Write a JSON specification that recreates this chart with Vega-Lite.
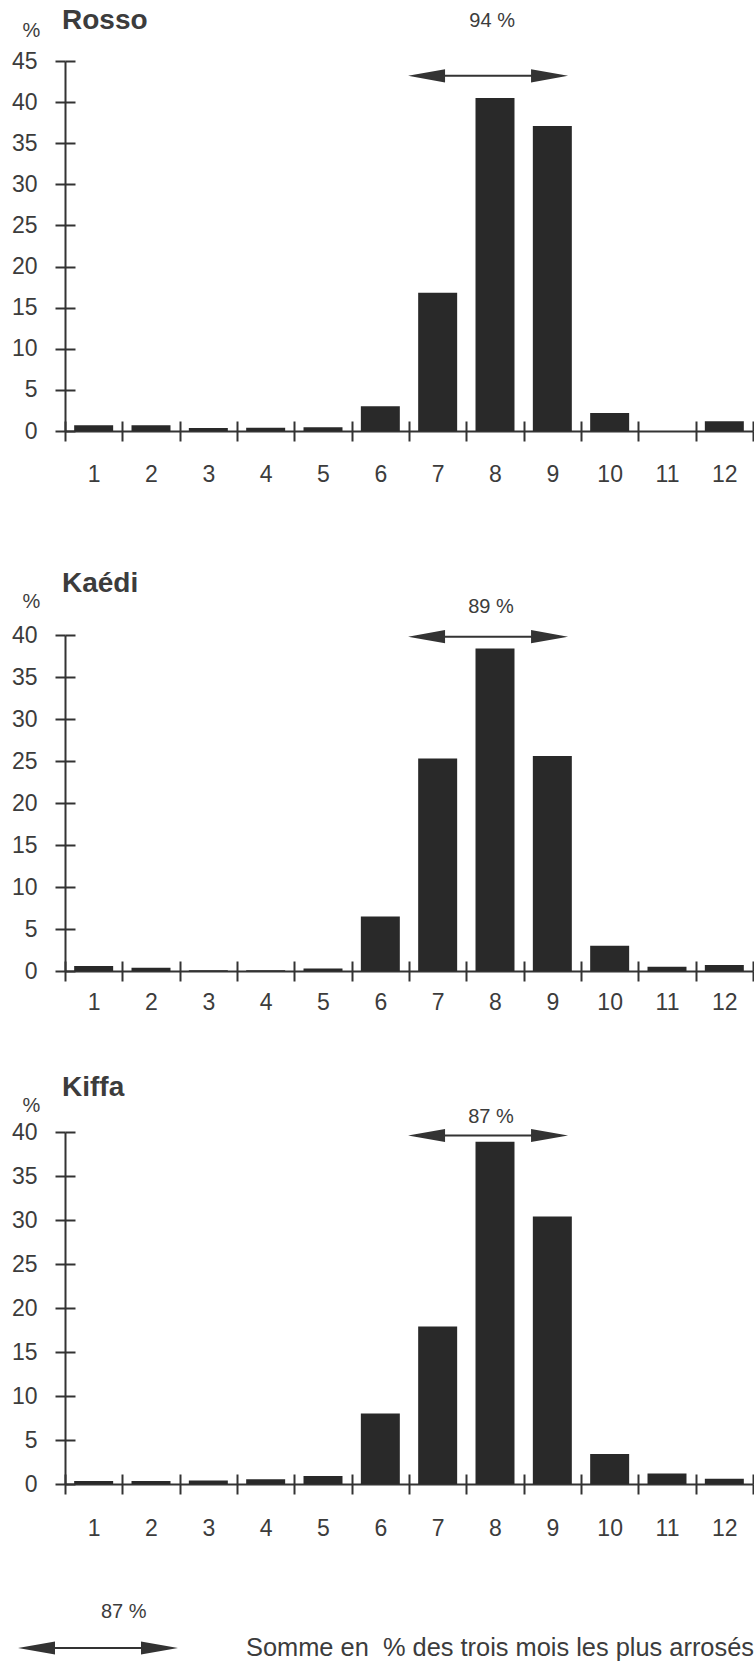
{
  "$schema": "https://vega.github.io/schema/vega-lite/v6.json",
  "background": "white",
  "padding": {"left": 11, "top": 7, "right": 0, "bottom": 0},
  "config": {
    "font": "Liberation Sans",
    "view": {"stroke": null},
    "axis": {
      "domainColor": "#333333", "domainWidth": 2, "tickColor": "#333333", "tickWidth": 2,
      "labelColor": "#3c3c3c", "labelFont": "Liberation Sans", "labelFontSize": 23,
      "grid": false, "titleColor": "#3c3c3c", "titleFont": "Liberation Sans", "titleFontWeight": "normal"
    },
    "text": {"font": "Liberation Sans", "color": "#3c3c3c"}
  },
  "datasets": {
    "rosso": [
      {"month": 1, "pct": 0.7}, {"month": 2, "pct": 0.7}, {"month": 3, "pct": 0.35}, {"month": 4, "pct": 0.4},
      {"month": 5, "pct": 0.45}, {"month": 6, "pct": 3.0}, {"month": 7, "pct": 16.8}, {"month": 8, "pct": 40.5},
      {"month": 9, "pct": 37.1}, {"month": 10, "pct": 2.2}, {"month": 11, "pct": 0}, {"month": 12, "pct": 1.2}
    ],
    "kaedi": [
      {"month": 1, "pct": 0.6}, {"month": 2, "pct": 0.4}, {"month": 3, "pct": 0.1}, {"month": 4, "pct": 0.1},
      {"month": 5, "pct": 0.3}, {"month": 6, "pct": 6.5}, {"month": 7, "pct": 25.3}, {"month": 8, "pct": 38.4},
      {"month": 9, "pct": 25.6}, {"month": 10, "pct": 3.0}, {"month": 11, "pct": 0.5}, {"month": 12, "pct": 0.7}
    ],
    "kiffa": [
      {"month": 1, "pct": 0.35}, {"month": 2, "pct": 0.35}, {"month": 3, "pct": 0.4}, {"month": 4, "pct": 0.55},
      {"month": 5, "pct": 0.9}, {"month": 6, "pct": 8.0}, {"month": 7, "pct": 17.9}, {"month": 8, "pct": 38.9},
      {"month": 9, "pct": 30.4}, {"month": 10, "pct": 3.4}, {"month": 11, "pct": 1.2}, {"month": 12, "pct": 0.6}
    ],
    "notes": [
      {"station": "Rosso", "mid": 8, "total": "94 %", "note": "Somme en\u00a0 % des trois mois les plus arrosés"},
      {"station": "Kaédi", "mid": 8, "total": "89 %", "note": "Somme en\u00a0 % des trois mois les plus arrosés"},
      {"station": "Kiffa", "mid": 8, "total": "87 %", "note": "Somme en\u00a0 % des trois mois les plus arrosés"}
    ]
  },
  "bounds": "flush",
  "spacing": 204,
  "vconcat": [
    {
      "width": 688, "height": 370,
      "layer": [
        {
          "data": {"name": "rosso"},
          "mark": {"type": "bar", "color": "#292929", "width": {"band": 0.68}},
          "encoding": {
            "x": {"field": "month", "type": "ordinal", "scale": {"domain": [1,2,3,4,5,6,7,8,9,10,11,12], "paddingInner": 0, "paddingOuter": 0},
                  "axis": {"orient": "bottom", "tickBand": "extent", "labelAngle": 0, "tickSize": 10, "labelPadding": 22, "title": null}},
            "y": {"field": "pct", "type": "quantitative", "scale": {"domain": [0, 45], "nice": false},
                  "axis": {"values": [0,5,10,15,20,25,30,35,40,45], "tickSize": 10, "labelPadding": 18, "title": "%", "titleAngle": 0, "titleX": -34, "titleY": -25, "titleAlign": "center", "titleBaseline": "alphabetic", "titleFontSize": 20}}
          }
        },
        {
          "data": {"name": "notes"},
          "transform": [{"filter": "datum.station === 'Rosso'"}],
          "mark": {"type": "point", "filled": true, "size": 1600, "color": "#333333", "opacity": 1, "strokeWidth": 0},
          "encoding": {
            "x": {"field": "mid", "type": "ordinal", "bandPosition": 0.78, "scale": {"domain": [1,2,3,4,5,6,7,8,9,10,11,12]},
                  "axis": {"orient": "top", "offset": -370, "labels": false, "domain": false, "tickSize": 10, "tickBand": "extent", "title": null}},
            "y": {"datum": 43.2, "type": "quantitative", "scale": {"domain": [0, 45], "nice": false},
                  "axis": {"orient": "right", "offset": -688, "labels": false, "domain": false, "tickSize": 10, "values": [0,5,10,15,20,25,30,35,40,45], "title": null}},
            "shape": {"field": "note", "type": "nominal",
                      "scale": {"range": ["M-5.15,0L-3.3,-0.33L-3.3,-0.05L1,-0.05L1,-0.33L2.85,0L1,0.33L1,0.05L-3.3,0.05L-3.3,0.33Z"]},
                      "legend": {"orient": "none", "legendX": 36, "legendY": 1541, "title": "87 %", "titleFontSize": 20, "titleFontWeight": "normal", "titleColor": "#3c3c3c", "titlePadding": 6,
                                 "labelFontSize": 25.4, "labelColor": "#3c3c3c", "labelOffset": 105, "labelLimit": 0, "symbolSize": 1600, "symbolFillColor": "#333333", "symbolStrokeWidth": 0, "padding": 0}}
          }
        },
        {
          "data": {"name": "notes"},
          "transform": [{"filter": "datum.station === 'Rosso'"}],
          "mark": {"type": "text", "fontSize": 20, "baseline": "middle", "dy": -55},
          "encoding": {
            "x": {"field": "mid", "type": "ordinal", "bandPosition": 0.45, "axis": null},
            "y": {"datum": 43.2, "type": "quantitative", "axis": null},
            "text": {"field": "total"}
          }
        },
        {
          "data": {"name": "notes"},
          "transform": [{"filter": "datum.station === 'Rosso'"}],
          "mark": {"type": "text", "fontSize": 28, "fontWeight": "bold", "align": "left", "baseline": "alphabetic", "dy": -32, "dx": -3},
          "encoding": {
            "x": {"datum": 1, "type": "ordinal", "bandPosition": 0, "axis": null},
            "y": {"datum": 45, "type": "quantitative", "axis": null},
            "text": {"field": "station"}
          }
        }
      ],
      "resolve": {"axis": {"x": "independent", "y": "independent"}}
    },
    {
      "bounds": "flush",
      "spacing": 161,
      "vconcat": [
        {
          "width": 688, "height": 336,
          "layer": [
            {
              "data": {"name": "kaedi"},
              "mark": {"type": "bar", "color": "#292929", "width": {"band": 0.68}},
              "encoding": {
                "x": {"field": "month", "type": "ordinal", "scale": {"domain": [1,2,3,4,5,6,7,8,9,10,11,12], "paddingInner": 0, "paddingOuter": 0},
                      "axis": {"orient": "bottom", "tickBand": "extent", "labelAngle": 0, "tickSize": 10, "labelPadding": 10, "title": null}},
                "y": {"field": "pct", "type": "quantitative", "scale": {"domain": [0, 40], "nice": false},
                      "axis": {"values": [0,5,10,15,20,25,30,35,40], "tickSize": 10, "labelPadding": 18, "title": "%", "titleAngle": 0, "titleX": -34, "titleY": -28, "titleAlign": "center", "titleBaseline": "alphabetic", "titleFontSize": 20}}
              }
            },
            {
              "data": {"name": "notes"},
              "transform": [{"filter": "datum.station === 'Kaédi'"}],
              "mark": {"type": "point", "filled": true, "size": 1600, "color": "#333333", "opacity": 1, "strokeWidth": 0},
              "encoding": {
                "x": {"field": "mid", "type": "ordinal", "bandPosition": 0.78, "scale": {"domain": [1,2,3,4,5,6,7,8,9,10,11,12]},
                      "axis": {"orient": "top", "offset": -336, "labels": false, "domain": false, "tickSize": 10, "tickBand": "extent", "title": null}},
                "y": {"datum": 39.8, "type": "quantitative", "scale": {"domain": [0, 40], "nice": false},
                      "axis": {"orient": "right", "offset": -688, "labels": false, "domain": false, "tickSize": 10, "values": [0,5,10,15,20,25,30,35,40], "title": null}},
                "shape": {"field": "note", "type": "nominal",
                          "scale": {"range": ["M-5.15,0L-3.3,-0.33L-3.3,-0.05L1,-0.05L1,-0.33L2.85,0L1,0.33L1,0.05L-3.3,0.05L-3.3,0.33Z"]},
                          "legend": {"orient": "none", "legendX": 36, "legendY": 1541, "title": "87 %", "titleFontSize": 20, "titleFontWeight": "normal", "titleColor": "#3c3c3c", "titlePadding": 6,
                                     "labelFontSize": 25.4, "labelColor": "#3c3c3c", "labelOffset": 105, "labelLimit": 0, "symbolSize": 1600, "symbolFillColor": "#333333", "symbolStrokeWidth": 0, "padding": 0}}
              }
            },
            {
              "data": {"name": "notes"},
              "transform": [{"filter": "datum.station === 'Kaédi'"}],
              "mark": {"type": "text", "fontSize": 20, "baseline": "middle", "dy": -30},
              "encoding": {
                "x": {"field": "mid", "type": "ordinal", "bandPosition": 0.43, "axis": null},
                "y": {"datum": 39.8, "type": "quantitative", "axis": null},
                "text": {"field": "total"}
              }
            },
            {
              "data": {"name": "notes"},
              "transform": [{"filter": "datum.station === 'Kaédi'"}],
              "mark": {"type": "text", "fontSize": 28, "fontWeight": "bold", "align": "left", "baseline": "alphabetic", "dy": -43, "dx": -3},
              "encoding": {
                "x": {"datum": 1, "type": "ordinal", "bandPosition": 0, "axis": null},
                "y": {"datum": 40, "type": "quantitative", "axis": null},
                "text": {"field": "station"}
              }
            }
          ],
          "resolve": {"axis": {"x": "independent", "y": "independent"}}
        },
        {
          "width": 688, "height": 352,
          "layer": [
            {
              "data": {"name": "kiffa"},
              "mark": {"type": "bar", "color": "#292929", "width": {"band": 0.68}},
              "encoding": {
                "x": {"field": "month", "type": "ordinal", "scale": {"domain": [1,2,3,4,5,6,7,8,9,10,11,12], "paddingInner": 0, "paddingOuter": 0},
                      "axis": {"orient": "bottom", "tickBand": "extent", "labelAngle": 0, "tickSize": 10, "labelPadding": 23, "title": null}},
                "y": {"field": "pct", "type": "quantitative", "scale": {"domain": [0, 40], "nice": false},
                      "axis": {"values": [0,5,10,15,20,25,30,35,40], "tickSize": 10, "labelPadding": 18, "title": "%", "titleAngle": 0, "titleX": -34, "titleY": -21, "titleAlign": "center", "titleBaseline": "alphabetic", "titleFontSize": 20}}
              }
            },
            {
              "data": {"name": "notes"},
              "transform": [{"filter": "datum.station === 'Kiffa'"}],
              "mark": {"type": "point", "filled": true, "size": 1600, "color": "#333333", "opacity": 1, "strokeWidth": 0},
              "encoding": {
                "x": {"field": "mid", "type": "ordinal", "bandPosition": 0.78, "scale": {"domain": [1,2,3,4,5,6,7,8,9,10,11,12]},
                      "axis": {"orient": "top", "offset": -352, "labels": false, "domain": false, "tickSize": 10, "tickBand": "extent", "title": null}},
                "y": {"datum": 39.6, "type": "quantitative", "scale": {"domain": [0, 40], "nice": false},
                      "axis": {"orient": "right", "offset": -688, "labels": false, "domain": false, "tickSize": 10, "values": [0,5,10,15,20,25,30,35,40], "title": null}},
                "shape": {"field": "note", "type": "nominal",
                          "scale": {"range": ["M-5.15,0L-3.3,-0.33L-3.3,-0.05L1,-0.05L1,-0.33L2.85,0L1,0.33L1,0.05L-3.3,0.05L-3.3,0.33Z"]},
                          "legend": {"orient": "none", "legendX": 36, "legendY": 1541, "title": "87 %", "titleFontSize": 20, "titleFontWeight": "normal", "titleColor": "#3c3c3c", "titlePadding": 6,
                                     "labelFontSize": 25.4, "labelColor": "#3c3c3c", "labelOffset": 105, "labelLimit": 0, "symbolSize": 1600, "symbolFillColor": "#333333", "symbolStrokeWidth": 0, "padding": 0}}
              }
            },
            {
              "data": {"name": "notes"},
              "transform": [{"filter": "datum.station === 'Kiffa'"}],
              "mark": {"type": "text", "fontSize": 20, "baseline": "middle", "dy": -19},
              "encoding": {
                "x": {"field": "mid", "type": "ordinal", "bandPosition": 0.43, "axis": null},
                "y": {"datum": 39.6, "type": "quantitative", "axis": null},
                "text": {"field": "total"}
              }
            },
            {
              "data": {"name": "notes"},
              "transform": [{"filter": "datum.station === 'Kiffa'"}],
              "mark": {"type": "text", "fontSize": 28, "fontWeight": "bold", "align": "left", "baseline": "alphabetic", "dy": -36, "dx": -3},
              "encoding": {
                "x": {"datum": 1, "type": "ordinal", "bandPosition": 0, "axis": null},
                "y": {"datum": 40, "type": "quantitative", "axis": null},
                "text": {"field": "station"}
              }
            }
          ],
          "resolve": {"axis": {"x": "independent", "y": "independent"}}
        }
      ]
    }
  ]
}
